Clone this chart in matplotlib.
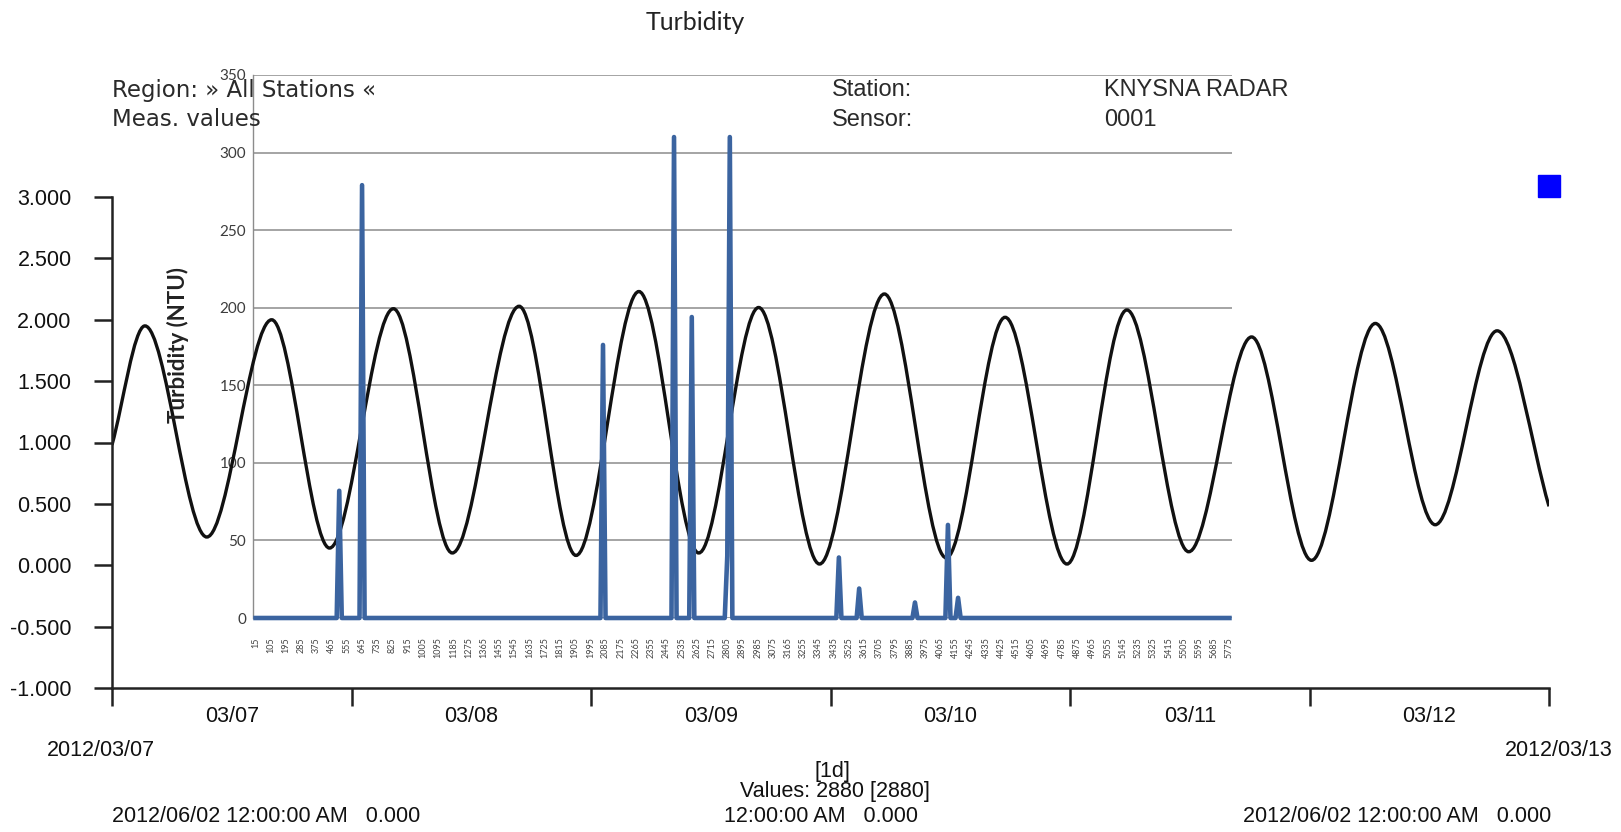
import numpy as np
import matplotlib
matplotlib.use("Agg")
import matplotlib.pyplot as plt
from matplotlib.path import Path
from matplotlib.patches import PathPatch

# tide level, turning points (hours after 2012/03/07 00:00)
tide_hours = [0, 3.3, 9.5, 16.0, 21.8, 28.2, 34.1, 40.8, 46.5, 52.8, 58.8, 64.8,
              70.9, 77.4, 83.6, 89.5, 95.7, 101.7, 107.9, 114.2, 120.2, 126.6,
              132.6, 138.8, 144]
tide_level = [0.98, 1.95, 0.23, 2.00, 0.14, 2.09, 0.10, 2.11, 0.08, 2.23, 0.10,
              2.10, 0.01, 2.21, 0.06, 2.02, 0.01, 2.08, 0.11, 1.86, 0.04, 1.97,
              0.33, 1.91, 0.48]

day_ticks = [0, 24, 48, 72, 96, 120, 144]
day_labels = ["03/07", "03/08", "03/09", "03/10", "03/11", "03/12"]
tide_yticks = [-1.0, -0.5, 0.0, 0.5, 1.0, 1.5, 2.0, 2.5, 3.0]

# turbidity, 15 minute samples; zero except for these spikes
turb_first = 15
turb_last = 5775
turb_step = 15
spike_minutes = [510, 645, 2070, 2490, 2595, 2805, 2820, 3465, 3585, 3915, 4110, 4170]
spike_values = [82, 279, 176, 310, 194, 40, 310, 39, 19, 10, 60, 13]
turb_yticks = [0, 50, 100, 150, 200, 250, 300, 350]

W, H = 1621, 832
fig = plt.figure(figsize=(W / 100, H / 100), dpi=100)


def box(x0, y0, x1, y1):
    # pixel box (top-left origin) -> figure fraction rect
    return [x0 / W, 1 - y1 / H, (x1 - x0) / W, (y1 - y0) / H]


def ftext(x, y, s, **kw):
    fig.text(x / W, 1 - y / H, s, **kw)


# ---- turbidity chart (grid + labels underneath) ----
ax_turb = fig.add_axes(box(253, 75, 1232, 618))
ax_turb.set_zorder(1)
minutes = np.arange(turb_first, turb_last + 1, turb_step)
turb = np.zeros(len(minutes))
for m, v in zip(spike_minutes, spike_values):
    turb[list(minutes).index(m)] = v

ax_turb.set_xlim(0, 5790)
ax_turb.set_ylim(0, 350)
ax_turb.set_yticks(turb_yticks)
ax_turb.set_yticklabels([str(v) for v in turb_yticks], family="Lato",
                        fontsize=11, color="#3c3c3c")
ax_turb.set_xticks(minutes[::6])
ax_turb.set_xticklabels([str(m) for m in minutes[::6]], rotation=90,
                        family="Lato", fontsize=6.5, color="#444444")
ax_turb.tick_params(axis="both", length=0)
ax_turb.tick_params(axis="y", pad=5)
ax_turb.tick_params(axis="x", pad=14)
ax_turb.yaxis.grid(True, color="#8c8c8c", lw=1.1)
ax_turb.set_axisbelow(True)
for s in ["top", "right", "bottom"]:
    ax_turb.spines[s].set_visible(False)
ax_turb.spines["left"].set_color("#8c8c8c")
ax_turb.spines["left"].set_linewidth(1.0)
ax_turb.patch.set_visible(False)

# ---- tide chart ----
ax_tide = fig.add_axes(box(112, 197, 1549, 688))
ax_tide.set_zorder(2)
ax_tide.patch.set_visible(False)

# smooth curve through the turning points (flat tangent at each turn)
verts = [(tide_hours[0], tide_level[0])]
codes = [Path.MOVETO]
n = len(tide_hours)
for i in range(n - 1):
    t0, v0 = tide_hours[i], tide_level[i]
    t1, v1 = tide_hours[i + 1], tide_level[i + 1]
    h = t1 - t0
    chord = (v1 - v0) / h
    m0 = chord if i == 0 else 0.0
    m1 = chord if i + 1 == n - 1 else 0.0
    verts += [(t0 + h / 3, v0 + m0 * h / 3), (t1 - h / 3, v1 - m1 * h / 3), (t1, v1)]
    codes += [Path.CURVE4] * 3
ax_tide.add_patch(PathPatch(Path(verts, codes), fill=False, ec="#111111", lw=2.4))

ax_tide.set_xlim(0, 144)
ax_tide.set_ylim(-1, 3)
ax_tide.set_yticks(tide_yticks)
ax_tide.set_yticklabels(["%.3f" % v for v in tide_yticks], family="Liberation Sans",
                        fontsize=15.5, color="#111111")
ax_tide.set_xticks(day_ticks)
ax_tide.set_xticklabels([])
ax_tide.set_xticks([d + 12 for d in day_ticks[:-1]], minor=True)
ax_tide.set_xticklabels(day_labels, minor=True, family="Liberation Sans",
                        fontsize=15.5, color="#111111")
ax_tide.tick_params(axis="both", which="major", length=13, width=1.8,
                    color="#222222", direction="out")
ax_tide.tick_params(axis="y", pad=16)
ax_tide.tick_params(axis="x", which="minor", length=0, pad=13)
for s in ["top", "right"]:
    ax_tide.spines[s].set_visible(False)
for s in ["left", "bottom"]:
    ax_tide.spines[s].set_linewidth(1.8)
    ax_tide.spines[s].set_color("#222222")
ax_tide.plot([1.0], [1.022], marker="s", ms=16, color="#0000ff",
             transform=ax_tide.transAxes, clip_on=False)

# ---- turbidity line on top ----
ax_blue = fig.add_axes(box(253, 75, 1232, 618), sharex=ax_turb, sharey=ax_turb)
ax_blue.set_zorder(3)
ax_blue.axis("off")
ax_blue.plot(minutes, turb, color="#3b64a0", lw=3.3, clip_on=False,
             solid_joinstyle="round")

# ---- texts ----
ftext(695, 23, "Turbidity", family="Lato", fontsize=18, ha="center", va="center",
      color="#222222")
ftext(178, 345, "Turbidity (NTU)", family="Lato", fontsize=16, fontweight="bold",
      rotation=90, ha="center", va="center", color="#222222")

hdr = dict(family="DejaVu Sans", fontsize=16.5, color="#2a2a2a", va="center")
ftext(112, 90, "Region: » All Stations «", **hdr)
ftext(112, 120, "Meas. values", **hdr)
lbl = dict(family="Liberation Sans", fontsize=17, color="#2a2a2a", va="center")
ftext(832, 90, "Station:", **lbl)
ftext(832, 120, "Sensor:", **lbl)
ftext(1104, 90, "KNYSNA RADAR", **lbl)
ftext(1104, 120, "0001", **lbl)

bot = dict(family="Liberation Sans", fontsize=15.5, color="#111111", va="center")
ftext(101, 750, "2012/03/07", ha="center", **bot)
ftext(1613, 750, "2012/03/13", ha="right", **bot)
ftext(832, 771, "[1d]", ha="center", **bot)
ftext(835, 792, "Values: 2880 [2880]", ha="center", **bot)
ftext(112, 817, "2012/06/02 12:00:00 AM   0.000", ha="left", **bot)
ftext(724, 817, "12:00:00 AM   0.000", ha="left", **bot)
ftext(1551, 817, "2012/06/02 12:00:00 AM   0.000", ha="right", **bot)

fig.savefig("out.png", dpi=100)
